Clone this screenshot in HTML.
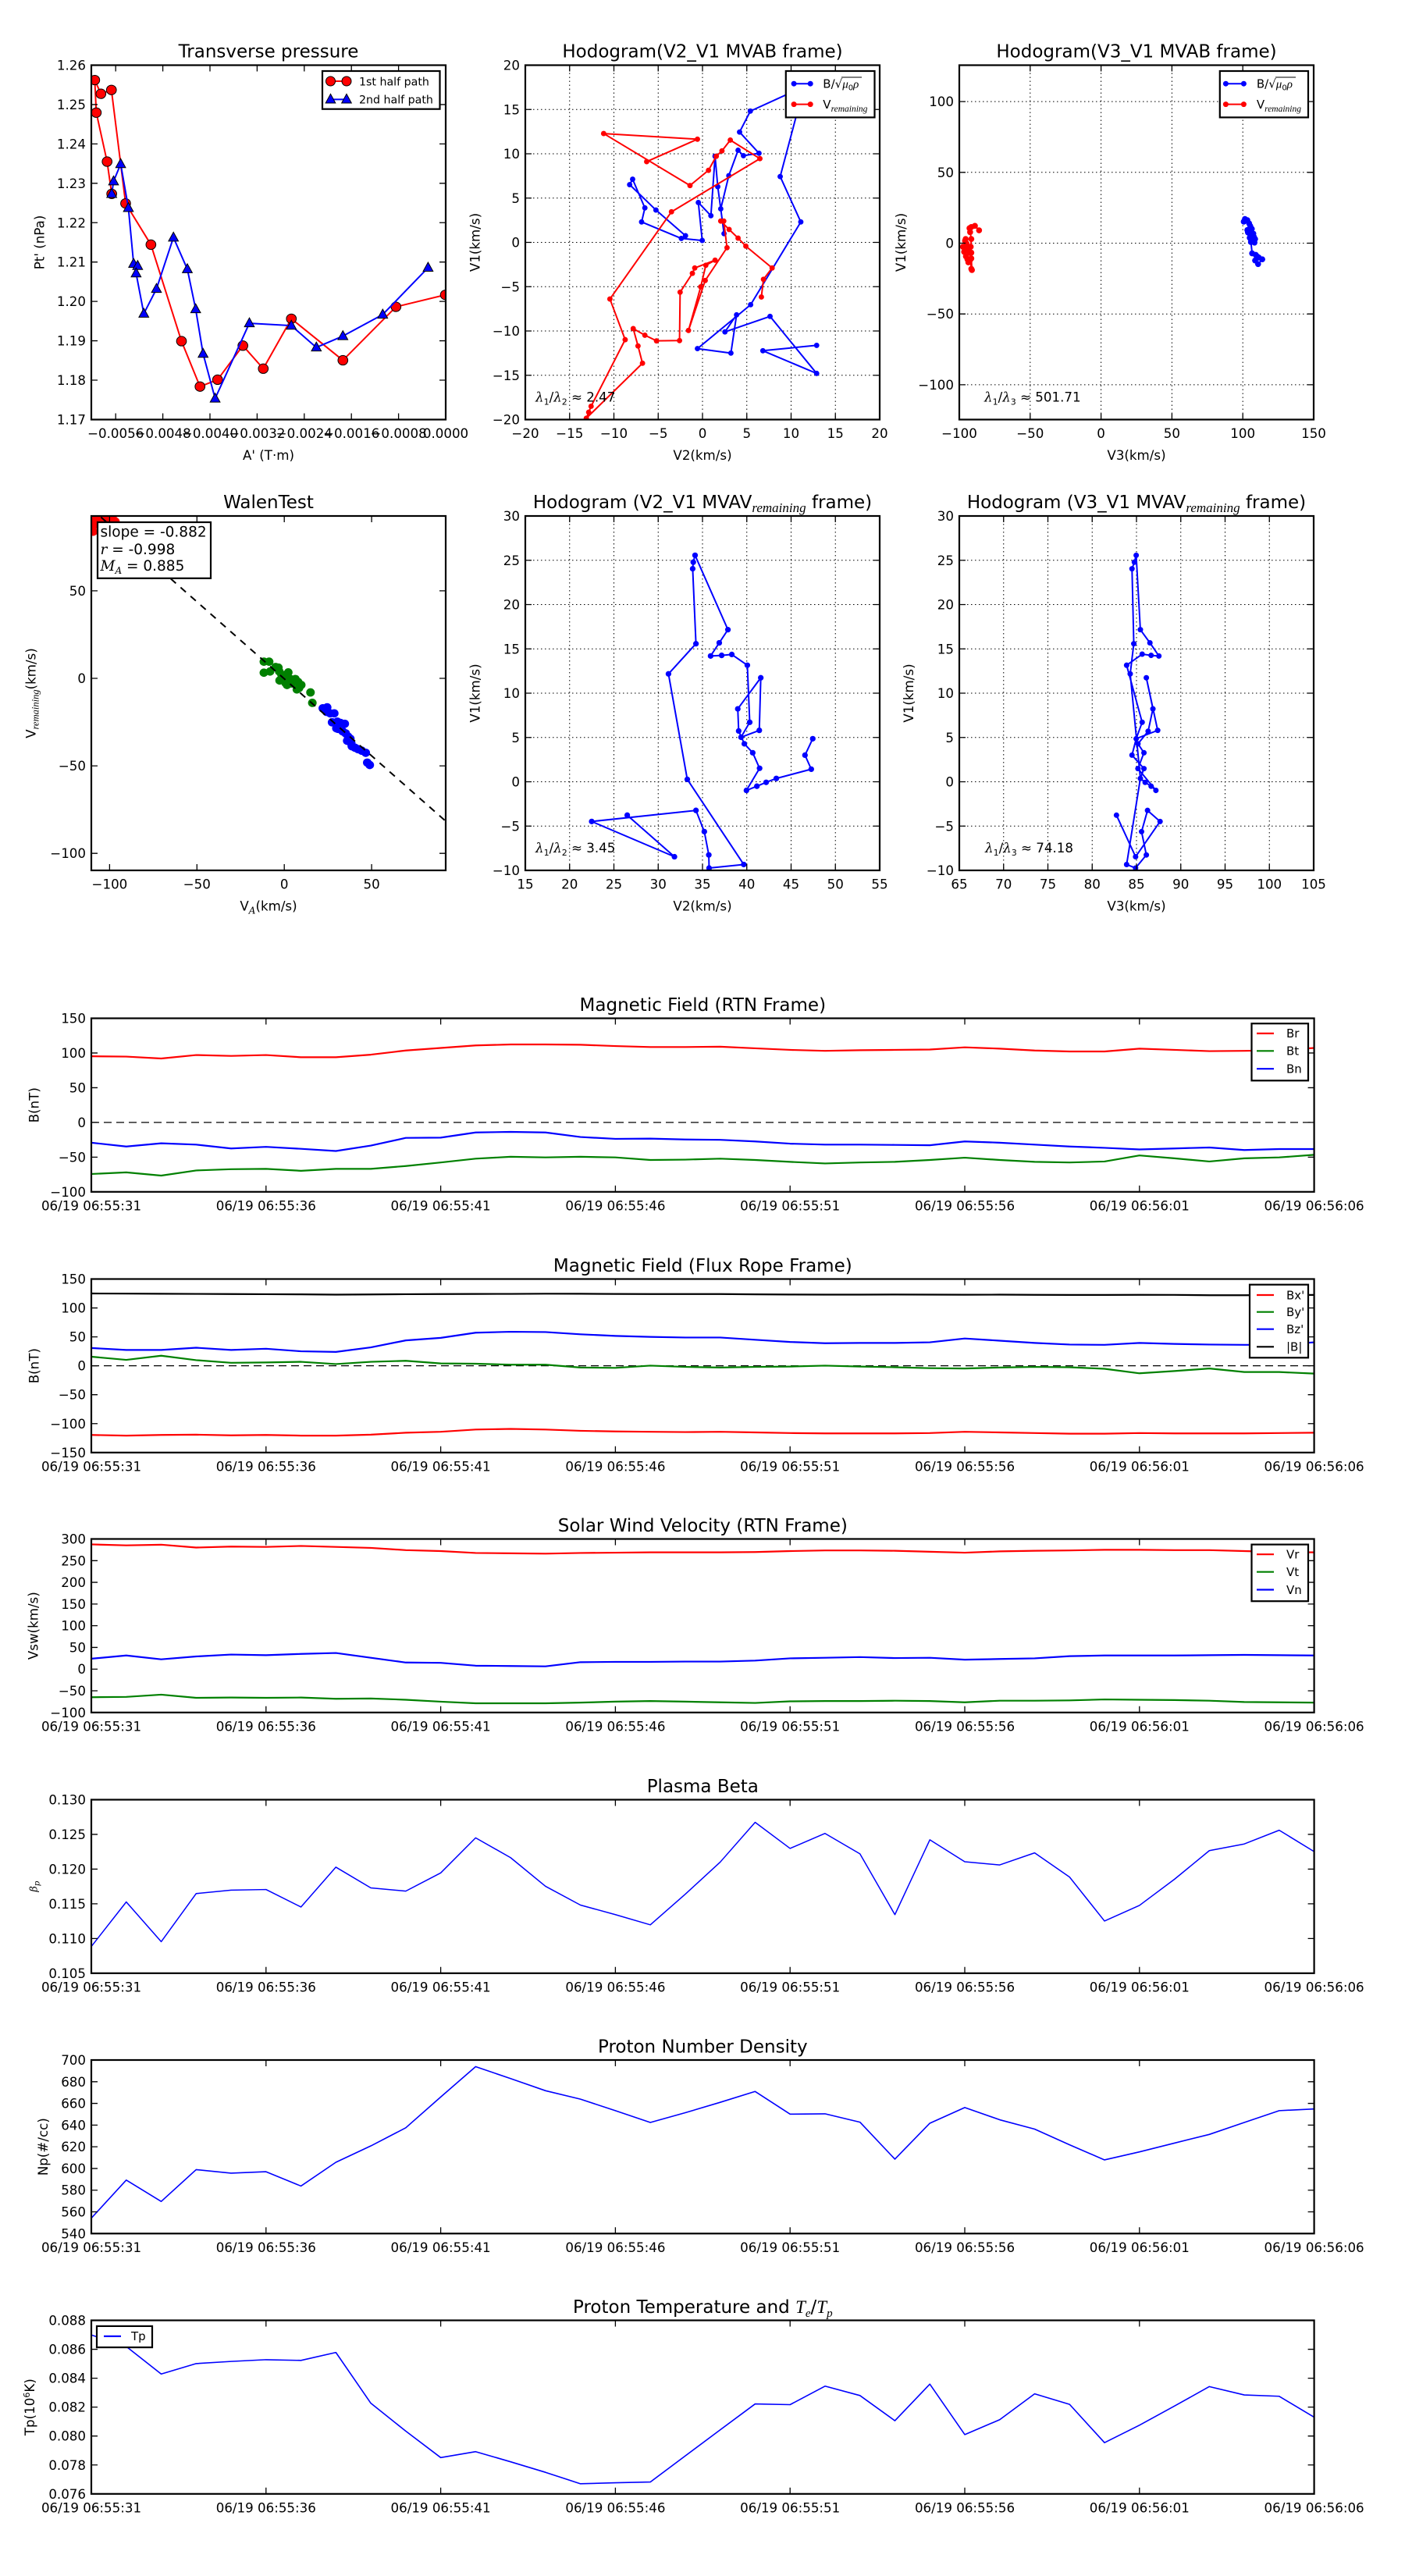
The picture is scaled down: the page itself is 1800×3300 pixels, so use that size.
<!DOCTYPE html>
<html><head><meta charset="utf-8">
<style>
html,body{margin:0;padding:0;background:#fff}
svg{display:block}
text{font-family:"DejaVu Sans","Liberation Sans",sans-serif;fill:#000}
.t{font-size:16.67px}
.ti{font-size:23px}
.lg{font-size:15px}
.lg1{font-size:14.2px}
.m{font-family:"DejaVu Serif","Liberation Serif",serif;font-style:italic}
.ms{font-family:"Liberation Serif",serif;font-style:italic}
.ln{fill:none;vector-effect:non-scaling-stroke;stroke-linejoin:round;stroke-linecap:round}
.ns{vector-effect:non-scaling-stroke}
.sp{fill:none;stroke:#000;stroke-width:2.2}
.tk{stroke:#000;stroke-width:1.3;fill:none}
.gr{stroke:#000;stroke-width:1;stroke-dasharray:1.5 3.5;fill:none}
.lb{fill:#fff;stroke:#000;stroke-width:2.2}
</style></head><body>
<svg width="1800" height="3300" viewBox="0 0 1800 3300" xmlns="http://www.w3.org/2000/svg">
<rect width="1800" height="3300" fill="#fff"/>
<defs>
<clipPath id="c1"><rect x="117" y="83.5" width="454" height="454"/></clipPath>
<clipPath id="c2"><rect x="673" y="83.5" width="454" height="454"/></clipPath>
<clipPath id="c3"><rect x="1229" y="83.5" width="454" height="454"/></clipPath>
<clipPath id="c4"><rect x="117" y="661" width="454" height="454"/></clipPath>
<clipPath id="c5"><rect x="673" y="661" width="454" height="454"/></clipPath>
<clipPath id="c6"><rect x="1229" y="661" width="454" height="454"/></clipPath>
<clipPath id="t1"><rect x="117" y="1304.5" width="1566.6" height="222.3"/></clipPath>
<clipPath id="t2"><rect x="117" y="1638.5" width="1566.6" height="222.3"/></clipPath>
<clipPath id="t3"><rect x="117" y="1971.5" width="1566.6" height="222.3"/></clipPath>
<clipPath id="t4"><rect x="117" y="2305.5" width="1566.6" height="222.3"/></clipPath>
<clipPath id="t5"><rect x="117" y="2639" width="1566.6" height="222.3"/></clipPath>
<clipPath id="t6"><rect x="117" y="2972.5" width="1566.6" height="222.3"/></clipPath>
</defs>

<!-- ============ PANEL 1: Transverse pressure ============ -->
<text class="ti" x="344" y="73.5" text-anchor="middle">Transverse pressure</text>
<g clip-path="url(#c1)"><g transform="scale(0.3954 0.3827)">
<polyline class="ln" stroke="#ff0000" stroke-width="2" points="362,649 347,541 312,377 307,268 327,314 361,301 407,681 489,819 588,1142 648,1294 705,1271 787,1157 853,1234 944,1067 1111,1206 1283,1027 1443,987"/>
<g fill="#ff0000" stroke="#000" stroke-width="1">
<circle class="ns" cx="362" cy="649" r="16"/><circle class="ns" cx="347" cy="541" r="16"/><circle class="ns" cx="312" cy="377" r="16"/><circle class="ns" cx="307" cy="268" r="16"/><circle class="ns" cx="327" cy="314" r="16"/><circle class="ns" cx="361" cy="301" r="16"/><circle class="ns" cx="407" cy="681" r="16"/><circle class="ns" cx="489" cy="819" r="16"/><circle class="ns" cx="588" cy="1142" r="16"/><circle class="ns" cx="648" cy="1294" r="16"/><circle class="ns" cx="705" cy="1271" r="16"/><circle class="ns" cx="787" cy="1157" r="16"/><circle class="ns" cx="853" cy="1234" r="16"/><circle class="ns" cx="944" cy="1067" r="16"/><circle class="ns" cx="1111" cy="1206" r="16"/><circle class="ns" cx="1283" cy="1027" r="16"/><circle class="ns" cx="1443" cy="987" r="16"/>
</g>
<polyline class="ln" stroke="#0000ff" stroke-width="2" points="362,649 368,607 391,549 416,696 433,883 446,890 441,915 466,1050 507,967 562,795 607,901 634,1035 658,1184 697,1334 808,1082 944,1090 1025,1163 1111,1125 1240,1053 1387,896"/>
<g fill="#0000ff" stroke="#000" stroke-width="1">
<polygon class="ns" points="362,631 346,661 378,661"/><polygon class="ns" points="368,589 352,619 384,619"/><polygon class="ns" points="391,531 375,561 407,561"/><polygon class="ns" points="416,678 400,708 432,708"/><polygon class="ns" points="433,865 417,895 449,895"/><polygon class="ns" points="446,872 430,902 462,902"/><polygon class="ns" points="441,897 425,927 457,927"/><polygon class="ns" points="466,1032 450,1062 482,1062"/><polygon class="ns" points="507,949 491,979 523,979"/><polygon class="ns" points="562,777 546,807 578,807"/><polygon class="ns" points="607,883 591,913 623,913"/><polygon class="ns" points="634,1017 618,1047 650,1047"/><polygon class="ns" points="658,1166 642,1196 674,1196"/><polygon class="ns" points="697,1316 681,1346 713,1346"/><polygon class="ns" points="808,1064 792,1094 824,1094"/><polygon class="ns" points="944,1072 928,1102 960,1102"/><polygon class="ns" points="1025,1145 1009,1175 1041,1175"/><polygon class="ns" points="1111,1107 1095,1137 1127,1137"/><polygon class="ns" points="1240,1035 1224,1065 1256,1065"/><polygon class="ns" points="1387,878 1371,908 1403,908"/>
</g>
</g></g>
<path class="tk" d="M117 133.94h8M117 184.38h8M117 234.82h8M117 285.26h8M117 335.7h8M117 386.14h8M117 436.58h8M117 487.02h8M571 133.94h-8M571 184.38h-8M571 234.82h-8M571 285.26h-8M571 335.7h-8M571 386.14h-8M571 436.58h-8M571 487.02h-8M148.2 537.5v-8M208.6 537.5v-8M269 537.5v-8M329.4 537.5v-8M389.8 537.5v-8M450.2 537.5v-8M510.6 537.5v-8M148.2 83.5v8M208.6 83.5v8M269 83.5v8M329.4 83.5v8M389.8 83.5v8M450.2 83.5v8M510.6 83.5v8"/>
<rect class="sp" x="117" y="83.5" width="454" height="454"/>
<g class="t" text-anchor="end">
<text x="110" y="89.5">1.26</text><text x="110" y="139.9">1.25</text><text x="110" y="190.4">1.24</text><text x="110" y="240.8">1.23</text><text x="110" y="291.3">1.22</text><text x="110" y="341.7">1.21</text><text x="110" y="392.1">1.20</text><text x="110" y="442.6">1.19</text><text x="110" y="493">1.18</text><text x="110" y="543.5">1.17</text>
</g>
<g class="t" text-anchor="middle">
<text x="148.2" y="561">−0.0056</text><text x="208.6" y="561">−0.0048</text><text x="269" y="561">−0.0040</text><text x="329.4" y="561">−0.0032</text><text x="389.8" y="561">−0.0024</text><text x="450.2" y="561">−0.0016</text><text x="510.6" y="561">−0.0008</text><text x="571" y="561">0.0000</text>
<text x="344" y="589">A' (T·m)</text>
<text transform="translate(50.6 310.5) rotate(-90)" dy="6">Pt' (nPa)</text>
</g>
<rect class="lb" x="413" y="91" width="150.5" height="48.7"/>
<line x1="423.5" y1="104" x2="444" y2="104" stroke="#ff0000" stroke-width="2"/>
<circle cx="423.5" cy="104" r="6" fill="#ff0000" stroke="#000" stroke-width="1"/><circle cx="444" cy="104" r="6" fill="#ff0000" stroke="#000" stroke-width="1"/>
<text class="lg1" x="460" y="109.3">1st half path</text>
<line x1="423.5" y1="127.4" x2="444" y2="127.4" stroke="#0000ff" stroke-width="2"/>
<polygon points="423.5,120.4 417.2,132 429.8,132" fill="#0000ff" stroke="#000" stroke-width="1"/><polygon points="444,120.4 437.7,132 450.3,132" fill="#0000ff" stroke="#000" stroke-width="1"/>
<text class="lg1" x="460" y="132.7">2nd half path</text>

<!-- ============ PANEL 2: Hodogram V2_V1 MVAB ============ -->
<text class="ti" x="900" y="73.5" text-anchor="middle">Hodogram(V2_V1 MVAB frame)</text>
<path class="gr" d="M729.75 83.5V537.5M786.5 83.5V537.5M843.25 83.5V537.5M900 83.5V537.5M956.75 83.5V537.5M1013.5 83.5V537.5M1070.25 83.5V537.5M673 140.25H1127M673 197H1127M673 253.75H1127M673 310.5H1127M673 367.25H1127M673 424H1127M673 480.75H1127"/>
<g clip-path="url(#c2)"><g transform="translate(600 0) scale(0.3827)">
<polyline class="ln" stroke="#0000ff" stroke-width="2" points="1166,1156 986,1174 1166,1250 1010,1059 859,1111 898,1054 879,1182 767,1167 945,1020 1113,743 1044,591 1100,380 1080,310 944,372 908,442 973,513 921,521 903,503 872,588 845,699 856,782 835,625 826,523 812,722 770,678 783,805 713,798 580,743 591,696 550,600 540,618 628,703 727,789"/>
<g fill="#0000ff">
<circle cx="1166" cy="1156" r="9"/><circle cx="986" cy="1174" r="9"/><circle cx="1166" cy="1250" r="9"/><circle cx="1010" cy="1059" r="9"/><circle cx="859" cy="1111" r="9"/><circle cx="898" cy="1054" r="9"/><circle cx="879" cy="1182" r="9"/><circle cx="767" cy="1167" r="9"/><circle cx="945" cy="1020" r="9"/><circle cx="1113" cy="743" r="9"/><circle cx="1044" cy="591" r="9"/><circle cx="944" cy="372" r="9"/><circle cx="908" cy="442" r="9"/><circle cx="973" cy="513" r="9"/><circle cx="921" cy="521" r="9"/><circle cx="903" cy="503" r="9"/><circle cx="872" cy="588" r="9"/><circle cx="845" cy="699" r="9"/><circle cx="856" cy="782" r="9"/><circle cx="835" cy="625" r="9"/><circle cx="826" cy="523" r="9"/><circle cx="812" cy="722" r="9"/><circle cx="770" cy="678" r="9"/><circle cx="783" cy="805" r="9"/><circle cx="713" cy="798" r="9"/><circle cx="580" cy="743" r="9"/><circle cx="591" cy="696" r="9"/><circle cx="550" cy="600" r="9"/><circle cx="540" cy="618" r="9"/><circle cx="628" cy="703" r="9"/><circle cx="727" cy="789" r="9"/>
</g>
<polyline class="ln" stroke="#ff0000" stroke-width="2" points="597,541 767,466 453,447 742,621 804,570 830,523 849,505 877,469 976,531 680,709 474,1001 525,1137 411,1360 403,1380 395,1400 583,1216 568,1158 552,1100 591,1122 630,1141 707,1140 709,978 750,915 758,897 826,871 795,888 778,960 737,1106 793,939 866,829 855,740 845,740 873,768 903,797 929,824 1017,897 988,935 981,994"/>
<g fill="#ff0000">
<circle cx="597" cy="541" r="9"/><circle cx="767" cy="466" r="9"/><circle cx="453" cy="447" r="9"/><circle cx="742" cy="621" r="9"/><circle cx="804" cy="570" r="9"/><circle cx="830" cy="523" r="9"/><circle cx="849" cy="505" r="9"/><circle cx="877" cy="469" r="9"/><circle cx="976" cy="531" r="9"/><circle cx="680" cy="709" r="9"/><circle cx="474" cy="1001" r="9"/><circle cx="525" cy="1137" r="9"/><circle cx="411" cy="1360" r="9"/><circle cx="403" cy="1380" r="9"/><circle cx="395" cy="1400" r="9"/><circle cx="583" cy="1216" r="9"/><circle cx="568" cy="1158" r="9"/><circle cx="552" cy="1100" r="9"/><circle cx="591" cy="1122" r="9"/><circle cx="630" cy="1141" r="9"/><circle cx="707" cy="1140" r="9"/><circle cx="709" cy="978" r="9"/><circle cx="750" cy="915" r="9"/><circle cx="758" cy="897" r="9"/><circle cx="826" cy="871" r="9"/><circle cx="795" cy="888" r="9"/><circle cx="778" cy="960" r="9"/><circle cx="737" cy="1106" r="9"/><circle cx="793" cy="939" r="9"/><circle cx="866" cy="829" r="9"/><circle cx="855" cy="740" r="9"/><circle cx="845" cy="740" r="9"/><circle cx="873" cy="768" r="9"/><circle cx="903" cy="797" r="9"/><circle cx="929" cy="824" r="9"/><circle cx="1017" cy="897" r="9"/><circle cx="988" cy="935" r="9"/><circle cx="981" cy="994" r="9"/>
</g>
</g></g>
<path class="tk" d="M673 140.25h8M673 197h8M673 253.75h8M673 310.5h8M673 367.25h8M673 424h8M673 480.75h8M1127 140.25h-8M1127 197h-8M1127 253.75h-8M1127 310.5h-8M1127 367.25h-8M1127 424h-8M1127 480.75h-8M729.75 537.5v-8M786.5 537.5v-8M843.25 537.5v-8M900 537.5v-8M956.75 537.5v-8M1013.5 537.5v-8M1070.25 537.5v-8M729.75 83.5v8M786.5 83.5v8M843.25 83.5v8M900 83.5v8M956.75 83.5v8M1013.5 83.5v8M1070.25 83.5v8"/>
<rect class="sp" x="673" y="83.5" width="454" height="454"/>
<text class="t" x="686" y="514.7"><tspan class="m">λ</tspan><tspan dy="4" font-size="11">1</tspan><tspan dy="-4">/</tspan><tspan class="m">λ</tspan><tspan dy="4" font-size="11">2</tspan><tspan dy="-4"> ≈ 2.47</tspan></text>
<g class="t" text-anchor="end">
<text x="666" y="89.5">20</text><text x="666" y="146.25">15</text><text x="666" y="203">10</text><text x="666" y="259.75">5</text><text x="666" y="316.5">0</text><text x="666" y="373.25">−5</text><text x="666" y="430">−10</text><text x="666" y="486.75">−15</text><text x="666" y="543.5">−20</text>
</g>
<g class="t" text-anchor="middle">
<text x="673" y="561">−20</text><text x="729.75" y="561">−15</text><text x="786.5" y="561">−10</text><text x="843.25" y="561">−5</text><text x="900" y="561">0</text><text x="956.75" y="561">5</text><text x="1013.5" y="561">10</text><text x="1070.25" y="561">15</text><text x="1127" y="561">20</text>
<text x="900" y="589">V2(km/s)</text>
<text transform="translate(608.4 310.5) rotate(-90)" dy="6">V1(km/s)</text>
</g>
<rect class="lb" x="1006.8" y="91" width="113.7" height="59.4"/>
<line x1="1017.1" y1="107.2" x2="1038.2" y2="107.2" stroke="#0000ff" stroke-width="2"/>
<circle cx="1017.1" cy="107.2" r="3.5" fill="#0000ff"/><circle cx="1038.2" cy="107.2" r="3.5" fill="#0000ff"/>
<text class="lg" x="1054.3" y="112.7">B/√<tspan class="ms">μ</tspan><tspan dy="3" font-size="10">0</tspan><tspan dy="-3" class="ms">ρ</tspan></text>
<line x1="1078" y1="99" x2="1104" y2="99" stroke="#000" stroke-width="0.9"/>
<line x1="1017.1" y1="133.6" x2="1038.2" y2="133.6" stroke="#ff0000" stroke-width="2"/>
<circle cx="1017.1" cy="133.6" r="3.5" fill="#ff0000"/><circle cx="1038.2" cy="133.6" r="3.5" fill="#ff0000"/>
<text class="lg" x="1054.3" y="139.1">V<tspan class="ms" dy="4" font-size="11.5">remaining</tspan></text>

<!-- ============ PANEL 3: Hodogram V3_V1 MVAB ============ -->
<text class="ti" x="1456" y="73.5" text-anchor="middle">Hodogram(V3_V1 MVAB frame)</text>
<path class="gr" d="M1319.8 83.5V537.5M1410.6 83.5V537.5M1501.4 83.5V537.5M1592.2 83.5V537.5M1229 130.1H1683M1229 220.8H1683M1229 311.5H1683M1229 402.2H1683M1229 492.9H1683"/>
<g clip-path="url(#c3)"><g transform="translate(1200 0) scale(0.3827)">
<polyline class="ln" stroke="#0000ff" stroke-width="2" points="1028,742 1032,733 1040,737 1046,748 1050,757 1040,770 1047,768 1055,766 1042,778 1050,786 1060,782 1062,793 1048,796 1058,806 1066,800 1064,812 1052,810 1056,848 1068,853 1072,858 1066,872 1076,884 1090,868 1078,862"/>
<g fill="#0000ff">
<circle cx="1028" cy="742" r="10"/><circle cx="1032" cy="733" r="10"/><circle cx="1040" cy="737" r="10"/><circle cx="1046" cy="748" r="10"/><circle cx="1050" cy="757" r="10"/><circle cx="1040" cy="770" r="10"/><circle cx="1047" cy="768" r="10"/><circle cx="1055" cy="766" r="10"/><circle cx="1042" cy="778" r="10"/><circle cx="1050" cy="786" r="10"/><circle cx="1060" cy="782" r="10"/><circle cx="1062" cy="793" r="10"/><circle cx="1048" cy="796" r="10"/><circle cx="1058" cy="806" r="10"/><circle cx="1066" cy="800" r="10"/><circle cx="1064" cy="812" r="10"/><circle cx="1052" cy="810" r="10"/><circle cx="1056" cy="848" r="10"/><circle cx="1068" cy="853" r="10"/><circle cx="1072" cy="858" r="10"/><circle cx="1066" cy="872" r="10"/><circle cx="1076" cy="884" r="10"/><circle cx="1090" cy="868" r="10"/><circle cx="1078" cy="862" r="10"/>
</g>
<polyline class="ln" stroke="#ff0000" stroke-width="2" points="142,771 128,756 116,760 110,764 112,777 116,800 114,826 116,846 100,815 95,806 97,800 102,832 88,826 92,843 98,858 103,868 106,878 112,870 116,865 118,904 116,900 110,845 104,835"/>
<g fill="#ff0000">
<circle cx="142" cy="771" r="10"/><circle cx="128" cy="756" r="10"/><circle cx="116" cy="760" r="10"/><circle cx="110" cy="764" r="10"/><circle cx="112" cy="777" r="10"/><circle cx="116" cy="800" r="10"/><circle cx="114" cy="826" r="10"/><circle cx="116" cy="846" r="10"/><circle cx="100" cy="815" r="10"/><circle cx="95" cy="806" r="10"/><circle cx="97" cy="800" r="10"/><circle cx="102" cy="832" r="10"/><circle cx="88" cy="826" r="10"/><circle cx="92" cy="843" r="10"/><circle cx="98" cy="858" r="10"/><circle cx="103" cy="868" r="10"/><circle cx="106" cy="878" r="10"/><circle cx="112" cy="870" r="10"/><circle cx="116" cy="865" r="10"/><circle cx="118" cy="904" r="10"/><circle cx="116" cy="900" r="10"/><circle cx="110" cy="845" r="10"/><circle cx="104" cy="835" r="10"/>
</g>
</g></g>
<path class="tk" d="M1229 130.1h8M1229 220.8h8M1229 311.5h8M1229 402.2h8M1229 492.9h8M1683 130.1h-8M1683 220.8h-8M1683 311.5h-8M1683 402.2h-8M1683 492.9h-8M1319.8 537.5v-8M1410.6 537.5v-8M1501.4 537.5v-8M1592.2 537.5v-8M1319.8 83.5v8M1410.6 83.5v8M1501.4 83.5v8M1592.2 83.5v8"/>
<rect class="sp" x="1229" y="83.5" width="454" height="454"/>
<text class="t" x="1261" y="514.7"><tspan class="m">λ</tspan><tspan dy="4" font-size="11">1</tspan><tspan dy="-4">/</tspan><tspan class="m">λ</tspan><tspan dy="4" font-size="11">3</tspan><tspan dy="-4"> ≈ 501.71</tspan></text>
<g class="t" text-anchor="end">
<text x="1222" y="136.1">100</text><text x="1222" y="226.8">50</text><text x="1222" y="317.5">0</text><text x="1222" y="408.2">−50</text><text x="1222" y="498.9">−100</text>
</g>
<g class="t" text-anchor="middle">
<text x="1229" y="561">−100</text><text x="1319.8" y="561">−50</text><text x="1410.6" y="561">0</text><text x="1501.4" y="561">50</text><text x="1592.2" y="561">100</text><text x="1683" y="561">150</text>
<text x="1456" y="589">V3(km/s)</text>
<text transform="translate(1154 310.5) rotate(-90)" dy="6">V1(km/s)</text>
</g>
<rect class="lb" x="1562.8" y="91" width="113.2" height="59.4"/>
<line x1="1570.4" y1="107.2" x2="1593.4" y2="107.2" stroke="#0000ff" stroke-width="2"/>
<circle cx="1570.4" cy="107.2" r="3.5" fill="#0000ff"/><circle cx="1593.4" cy="107.2" r="3.5" fill="#0000ff"/>
<text class="lg" x="1609.9" y="112.7">B/√<tspan class="ms">μ</tspan><tspan dy="3" font-size="10">0</tspan><tspan dy="-3" class="ms">ρ</tspan></text>
<line x1="1634" y1="99" x2="1660" y2="99" stroke="#000" stroke-width="0.9"/>
<line x1="1570.4" y1="133.6" x2="1593.4" y2="133.6" stroke="#ff0000" stroke-width="2"/>
<circle cx="1570.4" cy="133.6" r="3.5" fill="#ff0000"/><circle cx="1593.4" cy="133.6" r="3.5" fill="#ff0000"/>
<text class="lg" x="1609.9" y="139.1">V<tspan class="ms" dy="4" font-size="11.5">remaining</tspan></text>

<!-- ============ PANEL 4: WalenTest ============ -->
<text class="ti" x="344" y="651" text-anchor="middle">WalenTest</text>
<g clip-path="url(#c4)">
<g transform="translate(0 600) scale(0.3954 0.3827)">
<g fill="#008000">
<circle cx="855" cy="647" r="14"/><circle cx="872" cy="647" r="14"/><circle cx="855" cy="684" r="14"/><circle cx="875" cy="680" r="14"/><circle cx="893" cy="665" r="14"/><circle cx="902" cy="667" r="14"/><circle cx="905" cy="680" r="14"/><circle cx="912" cy="690" r="14"/><circle cx="934" cy="683" r="14"/><circle cx="906" cy="710" r="14"/><circle cx="920" cy="696" r="14"/><circle cx="925" cy="718" r="14"/><circle cx="941" cy="705" r="14"/><circle cx="945" cy="720" r="14"/><circle cx="930" cy="725" r="14"/><circle cx="957" cy="705" r="14"/><circle cx="966" cy="715" r="14"/><circle cx="976" cy="725" r="14"/><circle cx="962" cy="740" r="14"/><circle cx="969" cy="735" r="14"/><circle cx="1006" cy="750" r="14"/><circle cx="1012" cy="785" r="14"/>
</g>
<g fill="#0000ff">
<circle cx="1046" cy="803" r="14"/><circle cx="1058" cy="815" r="14"/><circle cx="1060" cy="800" r="14"/><circle cx="1070" cy="820" r="14"/><circle cx="1083" cy="820" r="14"/><circle cx="1076" cy="850" r="14"/><circle cx="1090" cy="870" r="14"/><circle cx="1093" cy="848" r="14"/><circle cx="1103" cy="852" r="14"/><circle cx="1117" cy="855" r="14"/><circle cx="1095" cy="872" r="14"/><circle cx="1110" cy="880" r="14"/><circle cx="1120" cy="887" r="14"/><circle cx="1125" cy="912" r="14"/><circle cx="1128" cy="898" r="14"/><circle cx="1135" cy="905" r="14"/><circle cx="1138" cy="920" r="14"/><circle cx="1140" cy="930" r="14"/><circle cx="1150" cy="935" r="14"/><circle cx="1160" cy="940" r="14"/><circle cx="1172" cy="945" r="14"/><circle cx="1185" cy="952" r="14"/><circle cx="1190" cy="985" r="14"/><circle cx="1198" cy="993" r="14"/>
</g>
<g fill="#ff0000">
<circle cx="305" cy="175" r="14"/><circle cx="322" cy="168" r="14"/><circle cx="338" cy="172" r="14"/><circle cx="352" cy="166" r="14"/><circle cx="366" cy="170" r="14"/><circle cx="374" cy="178" r="14"/><circle cx="300" cy="195" r="14"/><circle cx="302" cy="212" r="14"/><circle cx="312" cy="188" r="14"/><circle cx="330" cy="190" r="14"/>
</g>
</g>
<line x1="116.6" y1="651.3" x2="570.6" y2="1051.6" stroke="#000" stroke-width="2" stroke-dasharray="9 8"/>
</g>
<path class="tk" d="M117 756.9h8M117 869h8M117 981.1h8M117 1093.2h8M571 756.9h-8M571 869h-8M571 981.1h-8M571 1093.2h-8M140.4 1115v-8M252.3 1115v-8M364.2 1115v-8M476.1 1115v-8M140.4 661v8M252.3 661v8M364.2 661v8M476.1 661v8"/>
<rect class="sp" x="117" y="661" width="454" height="454"/>
<rect class="lb" x="125" y="669" width="145" height="71.8"/>
<text x="128.5" y="687.3" font-size="18.5">slope = -0.882</text>
<text x="128.5" y="709.8" font-size="18.5"><tspan class="m">r</tspan> = -0.998</text>
<text x="128.5" y="730.9" font-size="18.5"><tspan class="m">M</tspan><tspan class="m" dy="4" font-size="12">A</tspan><tspan dy="-4"> = 0.885</tspan></text>
<g class="t" text-anchor="end">
<text x="110" y="762.9">50</text><text x="110" y="875">0</text><text x="110" y="987.1">−50</text><text x="110" y="1099.2">−100</text>
</g>
<g class="t" text-anchor="middle">
<text x="140.4" y="1138.5">−100</text><text x="252.3" y="1138.5">−50</text><text x="364.2" y="1138.5">0</text><text x="476.1" y="1138.5">50</text>
<text x="344" y="1166.5">V<tspan class="m" dy="4" font-size="12">A</tspan><tspan dy="-4">(km/s)</tspan></text>
<text transform="translate(39.5 888) rotate(-90)" dy="6">V<tspan class="ms" dy="4" font-size="12.5">remaining</tspan><tspan dy="-4">(km/s)</tspan></text>
</g>

<!-- ============ PANEL 5: Hodogram V2_V1 MVAV ============ -->
<text class="ti" x="900" y="651" text-anchor="middle">Hodogram (V2_V1 MVAV<tspan class="ms" font-size="17" dy="5">remaining</tspan><tspan dy="-5"> frame)</tspan></text>
<path class="gr" d="M729.75 661V1115M786.5 661V1115M843.25 661V1115M900 661V1115M956.75 661V1115M1013.5 661V1115M1070.25 661V1115M673 717.75H1127M673 774.5H1127M673 831.25H1127M673 888H1127M673 944.75H1127M673 1001.5H1127M673 1058.25H1127"/>
<g clip-path="url(#c5)"><g transform="translate(600 600) scale(0.3827)">
<polyline class="ln" stroke="#0000ff" stroke-width="2" points="532,1161 690,1300 413,1182 762,1145 790,1216 805,1294 806,1338 922,1326 733,1041 670,688 762,587 751,336 753,314 759,291 869,540 840,584 811,628 848,626 882,623 934,659 942,850 913,900 974,877 979,701 902,805 905,879 924,922 952,952 975,1004 931,1078 966,1064 997,1051 1031,1038 1148,1007 1127,960 1153,905"/>
<g fill="#0000ff">
<circle cx="532" cy="1161" r="9.5"/><circle cx="690" cy="1300" r="9.5"/><circle cx="413" cy="1182" r="9.5"/><circle cx="762" cy="1145" r="9.5"/><circle cx="790" cy="1216" r="9.5"/><circle cx="805" cy="1294" r="9.5"/><circle cx="806" cy="1338" r="9.5"/><circle cx="922" cy="1326" r="9.5"/><circle cx="733" cy="1041" r="9.5"/><circle cx="670" cy="688" r="9.5"/><circle cx="762" cy="587" r="9.5"/><circle cx="751" cy="336" r="9.5"/><circle cx="753" cy="314" r="9.5"/><circle cx="759" cy="291" r="9.5"/><circle cx="869" cy="540" r="9.5"/><circle cx="840" cy="584" r="9.5"/><circle cx="811" cy="628" r="9.5"/><circle cx="848" cy="626" r="9.5"/><circle cx="882" cy="623" r="9.5"/><circle cx="934" cy="659" r="9.5"/><circle cx="942" cy="850" r="9.5"/><circle cx="913" cy="900" r="9.5"/><circle cx="974" cy="877" r="9.5"/><circle cx="979" cy="701" r="9.5"/><circle cx="902" cy="805" r="9.5"/><circle cx="905" cy="879" r="9.5"/><circle cx="924" cy="922" r="9.5"/><circle cx="952" cy="952" r="9.5"/><circle cx="975" cy="1004" r="9.5"/><circle cx="931" cy="1078" r="9.5"/><circle cx="966" cy="1064" r="9.5"/><circle cx="997" cy="1051" r="9.5"/><circle cx="1031" cy="1038" r="9.5"/><circle cx="1148" cy="1007" r="9.5"/><circle cx="1127" cy="960" r="9.5"/><circle cx="1153" cy="905" r="9.5"/>
</g>
</g></g>
<path class="tk" d="M673 717.75h8M673 774.5h8M673 831.25h8M673 888h8M673 944.75h8M673 1001.5h8M673 1058.25h8M1127 717.75h-8M1127 774.5h-8M1127 831.25h-8M1127 888h-8M1127 944.75h-8M1127 1001.5h-8M1127 1058.25h-8M729.75 1115v-8M786.5 1115v-8M843.25 1115v-8M900 1115v-8M956.75 1115v-8M1013.5 1115v-8M1070.25 1115v-8M729.75 661v8M786.5 661v8M843.25 661v8M900 661v8M956.75 661v8M1013.5 661v8M1070.25 661v8"/>
<rect class="sp" x="673" y="661" width="454" height="454"/>
<text class="t" x="686" y="1092"><tspan class="m">λ</tspan><tspan dy="4" font-size="11">1</tspan><tspan dy="-4">/</tspan><tspan class="m">λ</tspan><tspan dy="4" font-size="11">2</tspan><tspan dy="-4"> ≈ 3.45</tspan></text>
<g class="t" text-anchor="end">
<text x="666" y="667">30</text><text x="666" y="723.75">25</text><text x="666" y="780.5">20</text><text x="666" y="837.25">15</text><text x="666" y="894">10</text><text x="666" y="950.75">5</text><text x="666" y="1007.5">0</text><text x="666" y="1064.25">−5</text><text x="666" y="1121">−10</text>
</g>
<g class="t" text-anchor="middle">
<text x="673" y="1138.5">15</text><text x="729.75" y="1138.5">20</text><text x="786.5" y="1138.5">25</text><text x="843.25" y="1138.5">30</text><text x="900" y="1138.5">35</text><text x="956.75" y="1138.5">40</text><text x="1013.5" y="1138.5">45</text><text x="1070.25" y="1138.5">50</text><text x="1127" y="1138.5">55</text>
<text x="900" y="1166.5">V2(km/s)</text>
<text transform="translate(608.4 888) rotate(-90)" dy="6">V1(km/s)</text>
</g>

<!-- ============ PANEL 6: Hodogram V3_V1 MVAV ============ -->
<text class="ti" x="1456" y="651" text-anchor="middle">Hodogram (V3_V1 MVAV<tspan class="ms" font-size="17" dy="5">remaining</tspan><tspan dy="-5"> frame)</tspan></text>
<path class="gr" d="M1285.75 661V1115M1342.5 661V1115M1399.25 661V1115M1456 661V1115M1512.75 661V1115M1569.5 661V1115M1626.25 661V1115M1229 717.75H1683M1229 774.5H1683M1229 831.25H1683M1229 888H1683M1229 944.75H1683M1229 1001.5H1683M1229 1058.25H1683"/>
<g clip-path="url(#c6)"><g transform="translate(600 600) scale(0.7653 0.3827)">
<polyline class="ln" stroke="#0000ff" stroke-width="2" points="1085,1161 1117,1300 1158,1182 1137,1145 1127,1216 1135,1294 1117,1338 1102,1326 1125,1038 1108,688 1114,587 1111,336 1115,314 1118,291 1125,540 1141,584 1156,628 1143,626 1128,622 1102,659 1128,850 1118,905 1154,877 1135,701 1146,805 1138,880 1121,922 1131,952 1121,1005 1151,1078 1143,1064 1133,1051 1125,1038 1131,1005 1111,960 1118,905"/>
<g fill="#0000ff">
<ellipse cx="1085" cy="1161" rx="4.6" ry="9.2"/><ellipse cx="1117" cy="1300" rx="4.6" ry="9.2"/><ellipse cx="1158" cy="1182" rx="4.6" ry="9.2"/><ellipse cx="1137" cy="1145" rx="4.6" ry="9.2"/><ellipse cx="1127" cy="1216" rx="4.6" ry="9.2"/><ellipse cx="1135" cy="1294" rx="4.6" ry="9.2"/><ellipse cx="1117" cy="1338" rx="4.6" ry="9.2"/><ellipse cx="1102" cy="1326" rx="4.6" ry="9.2"/><ellipse cx="1125" cy="1038" rx="4.6" ry="9.2"/><ellipse cx="1108" cy="688" rx="4.6" ry="9.2"/><ellipse cx="1114" cy="587" rx="4.6" ry="9.2"/><ellipse cx="1111" cy="336" rx="4.6" ry="9.2"/><ellipse cx="1115" cy="314" rx="4.6" ry="9.2"/><ellipse cx="1118" cy="291" rx="4.6" ry="9.2"/><ellipse cx="1125" cy="540" rx="4.6" ry="9.2"/><ellipse cx="1141" cy="584" rx="4.6" ry="9.2"/><ellipse cx="1156" cy="628" rx="4.6" ry="9.2"/><ellipse cx="1143" cy="626" rx="4.6" ry="9.2"/><ellipse cx="1128" cy="622" rx="4.6" ry="9.2"/><ellipse cx="1102" cy="659" rx="4.6" ry="9.2"/><ellipse cx="1128" cy="850" rx="4.6" ry="9.2"/><ellipse cx="1118" cy="905" rx="4.6" ry="9.2"/><ellipse cx="1154" cy="877" rx="4.6" ry="9.2"/><ellipse cx="1135" cy="701" rx="4.6" ry="9.2"/><ellipse cx="1146" cy="805" rx="4.6" ry="9.2"/><ellipse cx="1138" cy="880" rx="4.6" ry="9.2"/><ellipse cx="1121" cy="922" rx="4.6" ry="9.2"/><ellipse cx="1131" cy="952" rx="4.6" ry="9.2"/><ellipse cx="1121" cy="1005" rx="4.6" ry="9.2"/><ellipse cx="1151" cy="1078" rx="4.6" ry="9.2"/><ellipse cx="1143" cy="1064" rx="4.6" ry="9.2"/><ellipse cx="1133" cy="1051" rx="4.6" ry="9.2"/><ellipse cx="1131" cy="1005" rx="4.6" ry="9.2"/><ellipse cx="1111" cy="960" rx="4.6" ry="9.2"/>
</g>
</g></g>
<path class="tk" d="M1229 717.75h8M1229 774.5h8M1229 831.25h8M1229 888h8M1229 944.75h8M1229 1001.5h8M1229 1058.25h8M1683 717.75h-8M1683 774.5h-8M1683 831.25h-8M1683 888h-8M1683 944.75h-8M1683 1001.5h-8M1683 1058.25h-8M1285.75 1115v-8M1342.5 1115v-8M1399.25 1115v-8M1456 1115v-8M1512.75 1115v-8M1569.5 1115v-8M1626.25 1115v-8M1285.75 661v8M1342.5 661v8M1399.25 661v8M1456 661v8M1512.75 661v8M1569.5 661v8M1626.25 661v8"/>
<rect class="sp" x="1229" y="661" width="454" height="454"/>
<text class="t" x="1262" y="1092"><tspan class="m">λ</tspan><tspan dy="4" font-size="11">1</tspan><tspan dy="-4">/</tspan><tspan class="m">λ</tspan><tspan dy="4" font-size="11">3</tspan><tspan dy="-4"> ≈ 74.18</tspan></text>
<g class="t" text-anchor="end">
<text x="1222" y="667">30</text><text x="1222" y="723.75">25</text><text x="1222" y="780.5">20</text><text x="1222" y="837.25">15</text><text x="1222" y="894">10</text><text x="1222" y="950.75">5</text><text x="1222" y="1007.5">0</text><text x="1222" y="1064.25">−5</text><text x="1222" y="1121">−10</text>
</g>
<g class="t" text-anchor="middle">
<text x="1229" y="1138.5">65</text><text x="1285.75" y="1138.5">70</text><text x="1342.5" y="1138.5">75</text><text x="1399.25" y="1138.5">80</text><text x="1456" y="1138.5">85</text><text x="1512.75" y="1138.5">90</text><text x="1569.5" y="1138.5">95</text><text x="1626.25" y="1138.5">100</text><text x="1683" y="1138.5">105</text>
<text x="1456" y="1166.5">V3(km/s)</text>
<text transform="translate(1164 888) rotate(-90)" dy="6">V1(km/s)</text>
</g>

<!-- ============ TS1: Magnetic Field RTN ============ -->
<text class="ti" x="900.3" y="1294.8" text-anchor="middle">Magnetic Field (RTN Frame)</text>
<g clip-path="url(#t1)">
<line x1="117" y1="1437.88" x2="1684" y2="1437.88" stroke="#000" stroke-width="1.3" stroke-dasharray="10 6"/>
<g transform="translate(117 1437.88) scale(44.76 -0.8892)">
<polyline class="ln" stroke="#ff0000" stroke-width="2.2" points="0,95.3 1,94.8 2,92.1 3,97.1 4,95.8 5,97.1 6,93.9 7,93.9 8,97.6 9,103.6 10,107.3 11,110.9 12,112.3 13,112.3 14,111.9 15,110 16,108.6 17,108.6 18,109.1 19,106.8 20,104.5 21,103.1 22,104 23,104.5 24,105 25,108.2 26,106.3 27,103.6 28,102.2 29,102.2 30,106.3 31,104.5 32,102.7 33,103.1 34,104 35,107.3"/>
<polyline class="ln" stroke="#008000" stroke-width="2.2" points="0,-74.3 1,-72 2,-76.6 3,-69.2 4,-67.4 5,-66.9 6,-69.7 7,-66.9 8,-66.9 9,-62.8 10,-57.7 11,-52.2 12,-49.5 13,-50.4 14,-49.5 15,-50.4 16,-54.1 17,-53.6 18,-52.2 19,-54.1 20,-56.8 21,-59.1 22,-57.7 23,-56.8 24,-54.1 25,-50.8 26,-54.1 27,-56.8 28,-57.7 29,-56.3 30,-47.6 31,-51.7 32,-56.3 33,-51.7 34,-50.4 35,-46.7"/>
<polyline class="ln" stroke="#0000ff" stroke-width="2.2" points="0,-29.2 1,-34.7 2,-30.1 3,-32 4,-37.5 5,-35.2 6,-38 7,-41.2 8,-33.4 9,-22.3 10,-21.9 11,-14.5 12,-13.6 13,-14.5 14,-21 15,-23.7 16,-23.3 17,-24.6 18,-25.1 19,-27.4 20,-30.6 21,-32 22,-32 23,-32.4 24,-32.9 25,-27.4 26,-29.2 27,-32 28,-34.7 29,-36.6 30,-38.9 31,-37.5 32,-36.1 33,-39.8 34,-38.4 35,-38.4"/>
</g></g>
<path class="tk" d="M117 1348.96h8M117 1393.42h8M117 1437.88h8M117 1482.34h8M1683.6 1348.96h-8M1683.6 1393.42h-8M1683.6 1437.88h-8M1683.6 1482.34h-8M340.8 1526.8v-8M564.6 1526.8v-8M788.4 1526.8v-8M1012.2 1526.8v-8M1236 1526.8v-8M1459.8 1526.8v-8M340.8 1304.5v8M564.6 1304.5v8M788.4 1304.5v8M1012.2 1304.5v8M1236 1304.5v8M1459.8 1304.5v8"/>
<rect class="sp" x="117" y="1304.5" width="1566.6" height="222.3"/>
<g class="t" text-anchor="end">
<text x="110" y="1310.5">150</text><text x="110" y="1354.96">100</text><text x="110" y="1399.42">50</text><text x="110" y="1443.88">0</text><text x="110" y="1488.34">−50</text><text x="110" y="1532.8">−100</text>
</g>
<g class="t" text-anchor="middle">
<text x="117" y="1550.3">06/19 06:55:31</text><text x="340.8" y="1550.3">06/19 06:55:36</text><text x="564.6" y="1550.3">06/19 06:55:41</text><text x="788.4" y="1550.3">06/19 06:55:46</text><text x="1012.2" y="1550.3">06/19 06:55:51</text><text x="1236" y="1550.3">06/19 06:55:56</text><text x="1459.8" y="1550.3">06/19 06:56:01</text><text x="1683.6" y="1550.3">06/19 06:56:06</text>
<text transform="translate(43.3 1415.7) rotate(-90)" dy="6">B(nT)</text>
</g>
<rect class="lb" x="1603.5" y="1311.2" width="72.5" height="73.1"/>
<line x1="1610" y1="1323.9" x2="1632" y2="1323.9" stroke="#ff0000" stroke-width="2.2"/>
<line x1="1610" y1="1346.3" x2="1632" y2="1346.3" stroke="#008000" stroke-width="2.2"/>
<line x1="1610" y1="1369.2" x2="1632" y2="1369.2" stroke="#0000ff" stroke-width="2.2"/>
<text class="lg" x="1648" y="1329.2">Br</text><text class="lg" x="1648" y="1351.6">Bt</text><text class="lg" x="1648" y="1374.5">Bn</text>

<!-- ============ TS2: Magnetic Field Flux Rope ============ -->
<text class="ti" x="900.3" y="1628.8" text-anchor="middle">Magnetic Field (Flux Rope Frame)</text>
<g clip-path="url(#t2)">
<line x1="117" y1="1749.65" x2="1684" y2="1749.65" stroke="#000" stroke-width="1.3" stroke-dasharray="10 6"/>
<g transform="translate(117 1749.65) scale(44.76 -0.741)">
<polyline class="ln" stroke="#ff0000" stroke-width="2.2" points="0,-119.6 1,-120.7 2,-119.6 3,-119.1 4,-120.2 5,-119.6 6,-120.7 7,-120.7 8,-119.1 9,-115.7 10,-114.1 11,-110.2 12,-109.1 13,-110.2 14,-112.4 15,-113.5 16,-114.1 17,-114.6 18,-114.1 19,-115.2 20,-116.3 21,-116.9 22,-116.9 23,-116.9 24,-116.3 25,-114.1 26,-115.2 27,-116.3 28,-117.4 29,-117.4 30,-116.3 31,-116.9 32,-116.9 33,-116.9 34,-116.3 35,-115.7"/>
<polyline class="ln" stroke="#008000" stroke-width="2.2" points="0,15.7 1,10.2 2,17.4 3,9.7 4,5.2 5,5.8 6,6.9 7,3 8,6.9 9,8.6 10,4.1 11,3.6 12,1.9 13,1.9 14,-3 15,-3.6 16,0.3 17,-1.9 18,-3 19,-1.9 20,-1.3 21,0.3 22,-1.3 23,-2.5 24,-4.1 25,-4.7 26,-3 27,-1.9 28,-2.5 29,-5.2 30,-13 31,-9.1 32,-4.7 33,-10.8 34,-10.8 35,-13.5"/>
<polyline class="ln" stroke="#0000ff" stroke-width="2.2" points="0,30.7 1,27.4 2,27.4 3,31.2 4,27.4 5,29.5 6,25.1 7,24 8,31.8 9,43.9 10,48.3 11,57.2 12,58.8 13,58.3 14,54.4 15,51.7 16,50 17,48.9 18,48.9 19,45 20,41.2 21,39 22,39.5 23,39.5 24,40.6 25,47.2 26,43.4 27,39.5 28,36.7 29,36.2 30,39.5 31,37.8 32,36.7 33,36.2 34,36.2 35,40.6"/>
<polyline class="ln" stroke="#000000" stroke-width="2.2" points="0,125 1,124.8 2,124.5 3,124.3 4,124 5,123.8 6,123.5 7,123 8,123.3 9,123.8 10,124 11,124.2 12,124.3 13,124.6 14,124.5 15,124.2 16,124 17,124 18,124 19,123.5 20,123.2 21,123 22,123 23,123.2 24,123 25,122.8 26,123 27,122.7 28,122.5 29,122.5 30,122.7 31,122.6 32,122 33,122 34,122.3 35,122.5"/>
</g></g>
<path class="tk" d="M117 1675.55h8M117 1712.6h8M117 1749.65h8M117 1786.7h8M117 1823.75h8M1683.6 1675.55h-8M1683.6 1712.6h-8M1683.6 1749.65h-8M1683.6 1786.7h-8M1683.6 1823.75h-8M340.8 1860.8v-8M564.6 1860.8v-8M788.4 1860.8v-8M1012.2 1860.8v-8M1236 1860.8v-8M1459.8 1860.8v-8M340.8 1638.5v8M564.6 1638.5v8M788.4 1638.5v8M1012.2 1638.5v8M1236 1638.5v8M1459.8 1638.5v8"/>
<rect class="sp" x="117" y="1638.5" width="1566.6" height="222.3"/>
<g class="t" text-anchor="end">
<text x="110" y="1644.5">150</text><text x="110" y="1681.55">100</text><text x="110" y="1718.6">50</text><text x="110" y="1755.65">0</text><text x="110" y="1792.7">−50</text><text x="110" y="1829.75">−100</text><text x="110" y="1866.8">−150</text>
</g>
<g class="t" text-anchor="middle">
<text x="117" y="1884.3">06/19 06:55:31</text><text x="340.8" y="1884.3">06/19 06:55:36</text><text x="564.6" y="1884.3">06/19 06:55:41</text><text x="788.4" y="1884.3">06/19 06:55:46</text><text x="1012.2" y="1884.3">06/19 06:55:51</text><text x="1236" y="1884.3">06/19 06:55:56</text><text x="1459.8" y="1884.3">06/19 06:56:01</text><text x="1683.6" y="1884.3">06/19 06:56:06</text>
<text transform="translate(43.3 1749.7) rotate(-90)" dy="6">B(nT)</text>
</g>
<rect class="lb" x="1601" y="1645.7" width="75" height="93.6"/>
<line x1="1610" y1="1659" x2="1632" y2="1659" stroke="#ff0000" stroke-width="2.2"/>
<line x1="1610" y1="1680.7" x2="1632" y2="1680.7" stroke="#008000" stroke-width="2.2"/>
<line x1="1610" y1="1702.7" x2="1632" y2="1702.7" stroke="#0000ff" stroke-width="2.2"/>
<line x1="1610" y1="1725.3" x2="1632" y2="1725.3" stroke="#000" stroke-width="2.2"/>
<text class="lg" x="1648" y="1664.3">Bx'</text><text class="lg" x="1648" y="1686">By'</text><text class="lg" x="1648" y="1708">Bz'</text><text class="lg" x="1648" y="1730.6">|B|</text>

<!-- ============ TS3: Solar Wind Velocity ============ -->
<text class="ti" x="900.3" y="1961.8" text-anchor="middle">Solar Wind Velocity (RTN Frame)</text>
<g clip-path="url(#t3)">
<g transform="translate(117 2138.23) scale(44.76 -0.55575)">
<polyline class="ln" stroke="#ff0000" stroke-width="2.2" points="0,287.5 1,285.3 2,286.8 3,280.2 4,282.4 5,281.7 6,283.9 7,281.7 8,279.4 9,274.3 10,272.1 11,267.7 12,267 13,266.2 14,267.7 15,268.4 16,269.2 17,269.2 18,269.2 19,269.9 20,272.1 21,273.6 22,273.6 23,272.8 24,270.6 25,268.4 26,271.4 27,272.8 28,273.6 29,275 30,275 31,274.3 32,274.3 33,272.1 34,269.9 35,269.2"/>
<polyline class="ln" stroke="#008000" stroke-width="2.2" points="0,-64.8 1,-64 2,-58.9 3,-66.2 4,-65.5 5,-66.2 6,-65.5 7,-68.4 8,-67.7 9,-70.6 10,-75 11,-78.7 12,-78.7 13,-78.7 14,-77.2 15,-75 16,-73.6 17,-75 18,-76.5 19,-78 20,-74.3 21,-73.6 22,-73.6 23,-72.8 24,-73.6 25,-76.5 26,-72.8 27,-72.8 28,-72.1 29,-69.9 30,-70.6 31,-71.4 32,-72.8 33,-75.8 34,-76.5 35,-77.2"/>
<polyline class="ln" stroke="#0000ff" stroke-width="2.2" points="0,24 1,31.4 2,22.6 3,29.2 4,33.6 5,32.1 6,35 7,37.2 8,26.2 9,15.2 10,14.5 11,7.9 12,7.2 13,6.4 14,16 15,16.7 16,16.7 17,17.4 18,17.4 19,19.6 20,24.8 21,26.2 22,27.7 23,25.5 24,26.2 25,21.8 26,23.3 27,24.8 28,29.9 29,31.4 30,31.4 31,31.4 32,32.1 33,32.8 34,32.1 35,31.4"/>
</g></g>
<path class="tk" d="M117 1999.29h8M117 2027.08h8M117 2054.86h8M117 2082.65h8M117 2110.44h8M117 2138.23h8M117 2166.01h8M1683.6 1999.29h-8M1683.6 2027.08h-8M1683.6 2054.86h-8M1683.6 2082.65h-8M1683.6 2110.44h-8M1683.6 2138.23h-8M1683.6 2166.01h-8M340.8 2193.8v-8M564.6 2193.8v-8M788.4 2193.8v-8M1012.2 2193.8v-8M1236 2193.8v-8M1459.8 2193.8v-8M340.8 1971.5v8M564.6 1971.5v8M788.4 1971.5v8M1012.2 1971.5v8M1236 1971.5v8M1459.8 1971.5v8"/>
<rect class="sp" x="117" y="1971.5" width="1566.6" height="222.3"/>
<g class="t" text-anchor="end">
<text x="110" y="1977.5">300</text><text x="110" y="2005.29">250</text><text x="110" y="2033.08">200</text><text x="110" y="2060.86">150</text><text x="110" y="2088.65">100</text><text x="110" y="2116.44">50</text><text x="110" y="2144.23">0</text><text x="110" y="2172.01">−50</text><text x="110" y="2199.8">−100</text>
</g>
<g class="t" text-anchor="middle">
<text x="117" y="2217.3">06/19 06:55:31</text><text x="340.8" y="2217.3">06/19 06:55:36</text><text x="564.6" y="2217.3">06/19 06:55:41</text><text x="788.4" y="2217.3">06/19 06:55:46</text><text x="1012.2" y="2217.3">06/19 06:55:51</text><text x="1236" y="2217.3">06/19 06:55:56</text><text x="1459.8" y="2217.3">06/19 06:56:01</text><text x="1683.6" y="2217.3">06/19 06:56:06</text>
<text transform="translate(42.5 2082.7) rotate(-90)" dy="6">Vsw(km/s)</text>
</g>
<rect class="lb" x="1603.5" y="1978.6" width="72.5" height="72.6"/>
<line x1="1610" y1="1991.2" x2="1632" y2="1991.2" stroke="#ff0000" stroke-width="2.2"/>
<line x1="1610" y1="2013.7" x2="1632" y2="2013.7" stroke="#008000" stroke-width="2.2"/>
<line x1="1610" y1="2036.5" x2="1632" y2="2036.5" stroke="#0000ff" stroke-width="2.2"/>
<text class="lg" x="1648" y="1996.5">Vr</text><text class="lg" x="1648" y="2019">Vt</text><text class="lg" x="1648" y="2041.8">Vn</text>

<!-- ============ TS4: Plasma Beta ============ -->
<text class="ti" x="900.3" y="2295.8" text-anchor="middle">Plasma Beta</text>
<g clip-path="url(#t4)">
<g transform="translate(117 3461.46) scale(44.76 -8.892)">
<polyline class="ln" stroke="#0000ff" stroke-width="1.5" points="0,108.85 1,115.27 2,109.54 3,116.47 4,116.97 5,117.06 6,114.54 7,120.28 8,117.29 9,116.83 10,119.45 11,124.5 12,121.65 13,117.52 14,114.82 15,113.44 16,111.97 17,116.38 18,121.01 19,126.74 20,122.98 21,125.14 22,122.2 23,113.44 24,124.22 25,121.06 26,120.6 27,122.34 28,118.85 29,112.52 30,114.77 31,118.53 32,122.66 33,123.62 34,125.6 35,122.52"/>
</g></g>
<path class="tk" d="M117 2349.96h8M117 2394.42h8M117 2438.88h8M117 2483.34h8M1683.6 2349.96h-8M1683.6 2394.42h-8M1683.6 2438.88h-8M1683.6 2483.34h-8M340.8 2527.8v-8M564.6 2527.8v-8M788.4 2527.8v-8M1012.2 2527.8v-8M1236 2527.8v-8M1459.8 2527.8v-8M340.8 2305.5v8M564.6 2305.5v8M788.4 2305.5v8M1012.2 2305.5v8M1236 2305.5v8M1459.8 2305.5v8"/>
<rect class="sp" x="117" y="2305.5" width="1566.6" height="222.3"/>
<g class="t" text-anchor="end">
<text x="110" y="2311.5">0.130</text><text x="110" y="2355.96">0.125</text><text x="110" y="2400.42">0.120</text><text x="110" y="2444.88">0.115</text><text x="110" y="2489.34">0.110</text><text x="110" y="2533.8">0.105</text>
</g>
<g class="t" text-anchor="middle">
<text x="117" y="2551.3">06/19 06:55:31</text><text x="340.8" y="2551.3">06/19 06:55:36</text><text x="564.6" y="2551.3">06/19 06:55:41</text><text x="788.4" y="2551.3">06/19 06:55:46</text><text x="1012.2" y="2551.3">06/19 06:55:51</text><text x="1236" y="2551.3">06/19 06:55:56</text><text x="1459.8" y="2551.3">06/19 06:56:01</text><text x="1683.6" y="2551.3">06/19 06:56:06</text>
<text transform="translate(42.5 2416.7) rotate(-90)" dy="5"><tspan class="m" font-size="13">β</tspan><tspan class="m" font-size="10" dy="3">p</tspan></text>
</g>

<!-- ============ TS5: Proton Number Density ============ -->
<text class="ti" x="900.3" y="2629.3" text-anchor="middle">Proton Number Density</text>
<g clip-path="url(#t5)">
<g transform="translate(117 3611.56) scale(44.76 -1.38938)">
<polyline class="ln" stroke="#0000ff" stroke-width="1.6" points="0,554.2 1,589.3 2,569.6 3,598.9 4,595.7 5,597 6,583.8 7,605.7 8,620.8 9,637.5 10,665.9 11,693.9 12,682.9 13,671.7 14,663.9 15,653.3 16,642.4 17,651.4 18,661 19,671 20,650.1 21,650.4 22,642.7 23,608.6 24,641.7 25,656.2 26,644.9 27,636.3 28,621.8 29,607.9 30,615.3 31,623.4 32,631.4 33,642.4 34,653.3 35,654.9"/>
</g></g>
<path class="tk" d="M117 2666.79h8M117 2694.58h8M117 2722.36h8M117 2750.15h8M117 2777.94h8M117 2805.73h8M117 2833.51h8M1683.6 2666.79h-8M1683.6 2694.58h-8M1683.6 2722.36h-8M1683.6 2750.15h-8M1683.6 2777.94h-8M1683.6 2805.73h-8M1683.6 2833.51h-8M340.8 2861.3v-8M564.6 2861.3v-8M788.4 2861.3v-8M1012.2 2861.3v-8M1236 2861.3v-8M1459.8 2861.3v-8M340.8 2639v8M564.6 2639v8M788.4 2639v8M1012.2 2639v8M1236 2639v8M1459.8 2639v8"/>
<rect class="sp" x="117" y="2639" width="1566.6" height="222.3"/>
<g class="t" text-anchor="end">
<text x="110" y="2645">700</text><text x="110" y="2672.79">680</text><text x="110" y="2700.58">660</text><text x="110" y="2728.36">640</text><text x="110" y="2756.15">620</text><text x="110" y="2783.94">600</text><text x="110" y="2811.73">580</text><text x="110" y="2839.51">560</text><text x="110" y="2867.3">540</text>
</g>
<g class="t" text-anchor="middle">
<text x="117" y="2884.8">06/19 06:55:31</text><text x="340.8" y="2884.8">06/19 06:55:36</text><text x="564.6" y="2884.8">06/19 06:55:41</text><text x="788.4" y="2884.8">06/19 06:55:46</text><text x="1012.2" y="2884.8">06/19 06:55:51</text><text x="1236" y="2884.8">06/19 06:55:56</text><text x="1459.8" y="2884.8">06/19 06:56:01</text><text x="1683.6" y="2884.8">06/19 06:56:06</text>
<text transform="translate(55 2750.2) rotate(-90)" dy="6">Np(#/cc)</text>
</g>

<!-- ============ TS6: Proton Temperature ============ -->
<text class="ti" x="900.3" y="2962.8" text-anchor="middle">Proton Temperature and <tspan class="ms">T</tspan><tspan class="ms" font-size="15" dy="5">e</tspan><tspan dy="-5">/</tspan><tspan class="ms">T</tspan><tspan class="ms" font-size="15" dy="5">p</tspan></text>
<g clip-path="url(#t6)">
<g transform="translate(117 4602.7) scale(44.76 -18.525)">
<polyline class="ln" stroke="#0000ff" stroke-width="1.6" points="0,86.99 1,86.19 2,84.29 3,85.01 4,85.16 5,85.28 6,85.23 7,85.78 8,82.27 9,80.34 10,78.51 11,78.92 12,78.22 13,77.49 14,76.7 15,76.77 16,76.82 17,78.63 18,80.43 19,82.22 20,82.17 21,83.45 22,82.8 23,81.06 24,83.59 25,80.1 26,81.13 27,82.92 28,82.19 29,79.54 30,80.75 31,82.07 32,83.42 33,82.84 34,82.75 35,81.3"/>
</g></g>
<path class="tk" d="M117 3009.55h8M117 3046.6h8M117 3083.65h8M117 3120.7h8M117 3157.75h8M1683.6 3009.55h-8M1683.6 3046.6h-8M1683.6 3083.65h-8M1683.6 3120.7h-8M1683.6 3157.75h-8M340.8 3194.8v-8M564.6 3194.8v-8M788.4 3194.8v-8M1012.2 3194.8v-8M1236 3194.8v-8M1459.8 3194.8v-8M340.8 2972.5v8M564.6 2972.5v8M788.4 2972.5v8M1012.2 2972.5v8M1236 2972.5v8M1459.8 2972.5v8"/>
<rect class="sp" x="117" y="2972.5" width="1566.6" height="222.3"/>
<g class="t" text-anchor="end">
<text x="110" y="2978.5">0.088</text><text x="110" y="3015.55">0.086</text><text x="110" y="3052.6">0.084</text><text x="110" y="3089.65">0.082</text><text x="110" y="3126.7">0.080</text><text x="110" y="3163.75">0.078</text><text x="110" y="3200.8">0.076</text>
</g>
<g class="t" text-anchor="middle">
<text x="117" y="3218.3">06/19 06:55:31</text><text x="340.8" y="3218.3">06/19 06:55:36</text><text x="564.6" y="3218.3">06/19 06:55:41</text><text x="788.4" y="3218.3">06/19 06:55:46</text><text x="1012.2" y="3218.3">06/19 06:55:51</text><text x="1236" y="3218.3">06/19 06:55:56</text><text x="1459.8" y="3218.3">06/19 06:56:01</text><text x="1683.6" y="3218.3">06/19 06:56:06</text>
<text transform="translate(38 3083.7) rotate(-90)" dy="6">Tp(10<tspan dy="-6" font-size="11">6</tspan><tspan dy="6">K)</tspan></text>
</g>
<rect class="lb" x="124" y="2979.9" width="71" height="27.2"/>
<line x1="133" y1="2992.9" x2="155" y2="2992.9" stroke="#0000ff" stroke-width="2.2"/>
<text class="lg" x="168" y="2998.2">Tp</text>
</svg>
</body></html>
